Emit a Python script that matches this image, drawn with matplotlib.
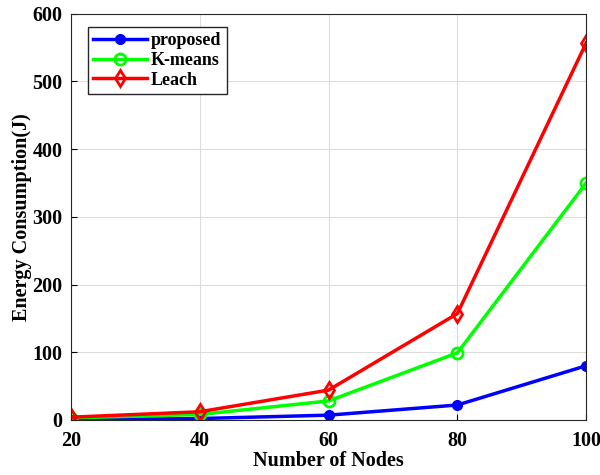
import matplotlib.pyplot as plt

nodes = [20, 40, 60, 80, 100]
proposed = [0.5, 2, 7, 22, 80]
kmeans = [3, 8, 28, 99, 350]
leach = [4, 12, 44, 157, 557]

plt.rcParams['font.family'] = 'Liberation Serif'
plt.rcParams['font.weight'] = 'bold'

fig = plt.figure(figsize=(6, 4.75), dpi=100)
ax = fig.add_axes([0.118, 0.116, 0.859, 0.855])

ax.plot(nodes, proposed, '-o', color='#0000ff', linewidth=2.5, markersize=7,
        label='proposed')
ax.plot(nodes, kmeans, '-o', color='#00ff00', linewidth=2.5, markersize=8,
        markerfacecolor='none', markeredgewidth=2, label='K-means')
ax.plot(nodes, leach, '-d', color='#ff0000', linewidth=2.5, markersize=8.5,
        markerfacecolor='none', markeredgewidth=2, label='Leach')

ax.set_xlim(20, 100)
ax.set_ylim(0, 600)
ax.set_xticks(nodes)
ax.set_yticks(range(0, 601, 100))
ax.tick_params(direction='in', labelsize=14.5, length=4)
ax.tick_params(axis='x', pad=8)
ax.tick_params(axis='y', pad=6)
for lbl in ax.get_xticklabels() + ax.get_yticklabels():
    lbl.set_fontweight('bold')
ax.grid(True, color='#dddddd', linewidth=0.8)
ax.set_axisbelow(True)
for s in ax.spines.values():
    s.set_color('#262626')

ax.set_xlabel('Number of Nodes', fontsize=14.5, fontweight='bold', labelpad=0)
ax.set_ylabel('Energy Consumption(J)', fontsize=14.5, fontweight='bold', labelpad=0)

leg = ax.legend(loc='upper left', fontsize=13, fancybox=False, framealpha=1,
                edgecolor='#262626', borderpad=0.3, handlelength=3,
                labelspacing=0.15, handletextpad=0.2, borderaxespad=0,
                bbox_to_anchor=(0.033, 0.968))
leg.get_frame().set_linewidth(1.0)

fig.savefig('out.png', dpi=100)
